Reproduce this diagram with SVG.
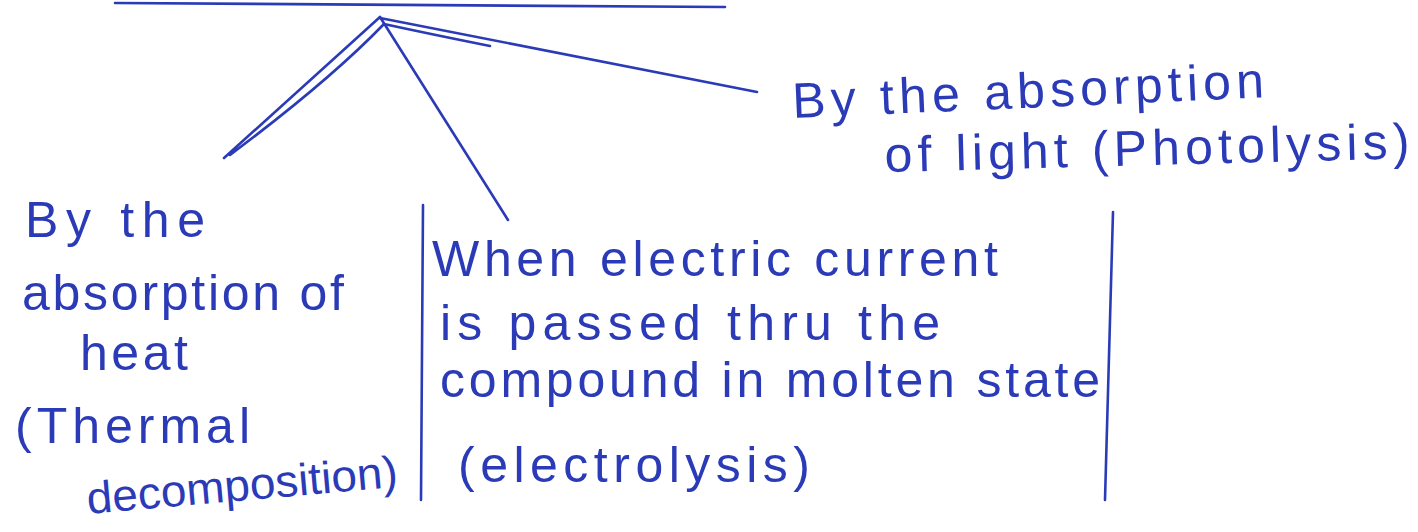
<svg xmlns="http://www.w3.org/2000/svg" width="1418" height="532" viewBox="0 0 1418 532">
<style>
.t{font-family:"Liberation Sans","DejaVu Sans",sans-serif;font-size:50px;fill:#2b3bb8;}
.ln{stroke:#2b3bb8;stroke-width:2.6;fill:none;stroke-linecap:round;}
</style>
<rect width="1418" height="532" fill="#ffffff"/>
<g id="connectors">
<line class="ln" x1="115" y1="3" x2="725" y2="7"/>
<path class="ln" d="M380 17 L224 158 M384 24 Q330 80 230 155"/>
<line class="ln" x1="380" y1="17" x2="508" y2="220"/>
<path class="ln" d="M380 18 L757 92 M384 24 Q430 34 490 46"/>
</g>
<g id="node-left">
<text class="t" x="25" y="237" textLength="180" lengthAdjust="spacing">By the</text>
<text class="t" x="22" y="310" textLength="322" lengthAdjust="spacing">absorption of</text>
<text class="t" x="80" y="370" textLength="108" lengthAdjust="spacing">heat</text>
<text class="t" x="15" y="443" textLength="235" lengthAdjust="spacing">(Thermal</text>
<text class="t" x="88" y="514" style="font-size:45px" textLength="312" lengthAdjust="spacingAndGlyphs" transform="rotate(-5 88 514)">decomposition)</text>
<line class="ln" x1="423" y1="205" x2="421" y2="500"/>
</g>
<g id="node-middle">
<text class="t" x="432" y="276" textLength="566" lengthAdjust="spacing">When electric current</text>
<text class="t" x="440" y="340" textLength="500" lengthAdjust="spacing">is passed thru the</text>
<text class="t" x="440" y="397" textLength="660" lengthAdjust="spacing">compound in molten state</text>
<text class="t" x="458" y="482" textLength="352" lengthAdjust="spacing">(electrolysis)</text>
<line class="ln" x1="1113" y1="212" x2="1105" y2="500"/>
</g>
<g id="node-right">
<text class="t" x="793" y="118" textLength="472" lengthAdjust="spacing" transform="rotate(-2.5 793 118)">By the absorption</text>
<text class="t" x="885" y="172" textLength="525" lengthAdjust="spacing" transform="rotate(-1.5 885 172)">of light (Photolysis)</text>
</g>
</svg>
